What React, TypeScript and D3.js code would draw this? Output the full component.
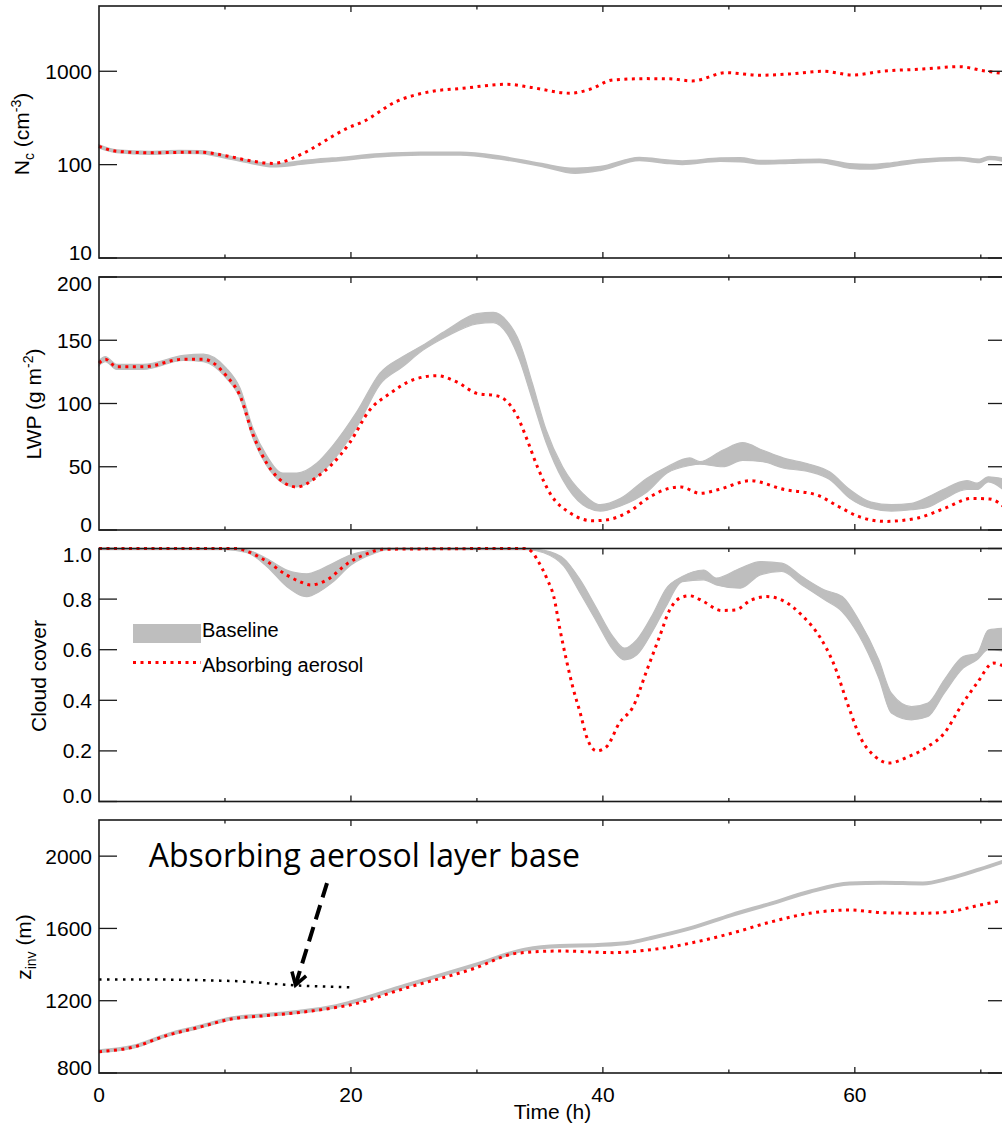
import React from "react";
import * as d3 from "d3";

// ---- time axis ----
const timeDomain = [0, 72];
const timeMajor = [0, 20, 40, 60];
const timeMinor = [10, 30, 50, 70];

// ---- panel 1: droplet number concentration (cm^-3) ----
const ncBaseTime = [0, 1.4, 4, 6.4, 8, 10, 12, 13.8, 16, 17.3, 18.5, 22.3, 25.5, 28.7, 31.8, 35, 37.8, 39.8, 42.9, 45.3, 46.3, 49.3, 50.9, 52.5, 54.8, 57.2, 59.6, 61.2, 62.9, 65.2, 68.3, 69.9, 70.7, 72];
const ncBaseLo = [152, 135, 130, 133, 132, 118, 104, 95, 101, 106, 109, 122, 127, 127, 115, 97, 81, 87, 111, 103, 101, 109, 108, 102, 104, 106, 92, 90, 96, 106, 111, 106, 114, 108];
const ncBaseHi = [162, 143, 138, 141, 140, 126, 110, 101, 109, 114, 117, 130, 135, 135, 123, 103, 91, 95, 119, 111, 109, 117, 118, 110, 112, 114, 102, 100, 104, 114, 119, 114, 122, 116];
const ncAbsTime = [0, 1.4, 4, 8, 10, 12, 13.8, 16, 17.5, 18.5, 19.7, 21, 23.6, 26.3, 28.9, 32.4, 34.2, 37.4, 39, 40.8, 43.5, 45.3, 47.1, 49.8, 52.5, 54.8, 57.5, 59.8, 62.2, 65.4, 68.3, 70.2, 72];
const ncAbs = [157, 139, 134, 136, 125, 110, 103, 128, 165, 200, 245, 290, 474, 605, 658, 725, 675, 582, 643, 808, 834, 830, 788, 966, 906, 935, 1000, 913, 1000, 1057, 1120, 1015, 935];
const ncTicks = [10, 100, 1000];

// ---- panel 2: liquid water path (g m^-2) ----
const lwpBaseTime = [0, 0.5, 1.4, 3.5, 6.7, 8.3, 10.1, 11.2, 12.2, 13.3, 14.6, 15.7, 17.3, 18.5, 20.5, 22.3, 24.1, 25.7, 27.6, 30, 31.3, 32.4, 33.4, 34.4, 35.5, 36.8, 38.4, 39.8, 41.4, 43.5, 45.1, 46.9, 47.7, 49.5, 51.1, 52.7, 54.3, 56.4, 58, 59.6, 61.3, 62.9, 64.5, 65.8, 67, 68.9, 69.7, 70.6, 72];
const lwpBaseLo = [130, 133, 127, 127, 134, 133, 120, 104, 73, 51, 37, 34, 42, 54, 82, 115, 129, 142, 153, 163, 164, 155, 134, 103, 69, 40, 20, 15, 19, 30, 45, 51, 52, 50, 55, 54, 49, 46, 40, 25, 17, 15, 16, 18, 24, 32, 32, 38, 30];
const lwpBaseHi = [134, 137, 131, 131, 138, 139, 128, 112, 81, 59, 45, 45, 53, 66, 94, 124, 137, 146, 158, 171, 172, 165, 148, 116, 79, 50, 29, 20, 25, 41, 50, 57, 54, 63, 69, 63, 57, 52, 46, 32, 22, 20, 21, 26, 32, 39, 37, 42, 40];
const lwpAbsTime = [0, 0.5, 1.4, 3.5, 6.7, 8.3, 10.1, 11.2, 12.2, 13.3, 14.6, 15.7, 17.3, 18.5, 19.9, 21.5, 23.1, 24.9, 26.8, 28.4, 30, 31.6, 32.4, 33.2, 34, 34.8, 35.8, 37.4, 39.2, 40.3, 42.1, 43.7, 45.3, 46.2, 47.7, 49.2, 51.7, 54.4, 57, 58.7, 60.3, 62.4, 65, 67.1, 69.3, 70.7, 72];
const lwpAbs = [132, 135, 129, 129, 135, 135, 122, 106, 76, 53, 38, 34, 42, 52, 69, 95, 108, 118.6, 122, 117, 108, 106, 101.5, 90, 71, 50, 29, 13.4, 7.3, 8, 14.7, 26, 33, 34, 29, 32, 39, 32, 27.6, 18.6, 10.7, 6.8, 9.5, 17, 25, 24.5, 17];
const lwpTicks = [0, 50, 100, 150, 200];

// ---- panel 3: cloud cover ----
const cloudBaseTime = [0, 10, 11.7, 13.3, 14.9, 16.5, 17.5, 18.5, 20, 21.8, 23, 34, 35.3, 36.9, 38.2, 39.5, 40.8, 41.7, 42.7, 44, 45, 46.3, 48, 49, 50.9, 52.5, 54.2, 55.8, 57.6, 59, 60.3, 61.9, 62.9, 64.5, 65.8, 67.1, 68.6, 69.7, 70.6, 72];
const cloudBaseLo = [0.995, 0.995, 0.985, 0.93, 0.85, 0.81, 0.83, 0.865, 0.935, 0.98, 0.995, 0.995, 0.983, 0.93, 0.823, 0.711, 0.6, 0.56, 0.58, 0.678, 0.77, 0.869, 0.876, 0.856, 0.843, 0.896, 0.909, 0.856, 0.797, 0.75, 0.659, 0.488, 0.35, 0.323, 0.336, 0.428, 0.527, 0.56, 0.6, 0.593];
const cloudBaseHi = [1, 1, 0.995, 0.96, 0.915, 0.9, 0.915, 0.94, 0.975, 0.995, 1, 1, 0.993, 0.96, 0.876, 0.764, 0.652, 0.606, 0.64, 0.744, 0.84, 0.889, 0.915, 0.883, 0.922, 0.948, 0.942, 0.889, 0.836, 0.81, 0.718, 0.56, 0.428, 0.375, 0.389, 0.481, 0.573, 0.586, 0.678, 0.685];
const cloudAbsTime = [0, 11, 11.7, 13.3, 14.9, 15.9, 16.8, 18.1, 19.7, 21.3, 22.5, 33.8, 34.4, 34.8, 35.6, 36.1, 36.6, 37.1, 37.6, 38.2, 38.7, 39.5, 40.3, 41.3, 42.4, 43.5, 44.5, 45.3, 46.1, 46.9, 48, 49.4, 50.5, 51.8, 53, 54.3, 55.9, 57.2, 58.3, 59.5, 60.4, 61.6, 62.7, 64.3, 65.8, 67.1, 68.4, 69.7, 71, 72];
const cloudAbs = [1, 1, 0.99, 0.95, 0.895, 0.87, 0.856, 0.876, 0.94, 0.98, 0.997, 1, 0.985, 0.955, 0.876, 0.81, 0.678, 0.56, 0.454, 0.35, 0.257, 0.2, 0.217, 0.31, 0.375, 0.52, 0.652, 0.757, 0.804, 0.813, 0.79, 0.755, 0.757, 0.797, 0.81, 0.794, 0.731, 0.652, 0.547, 0.375, 0.257, 0.178, 0.152, 0.178, 0.217, 0.27, 0.375, 0.468, 0.547, 0.53];
const cloudTicks = [0, 0.2, 0.4, 0.6, 0.8, 1.0];

// ---- panel 4: inversion height (m) ----
const zinvBaseTime = [0, 2.7, 5.4, 8, 10.6, 13.3, 15.9, 18.6, 19.9, 24.3, 29.8, 33.9, 36.6, 39.6, 42.2, 43.7, 46.9, 50.2, 53.4, 56.4, 59.6, 62.2, 65.4, 67.5, 69.9, 72];
const zinvBase = [920, 945, 1010, 1056, 1103, 1121, 1139, 1167, 1189, 1283, 1397, 1484, 1503, 1508, 1522, 1545, 1600, 1674, 1739, 1803, 1849, 1853, 1849, 1877, 1927, 1975];
const zinvAbsTime = [0, 2.7, 5.4, 8, 10.6, 13.3, 15.9, 18.6, 19.9, 24.3, 29.8, 33.1, 36.6, 40.9, 43.5, 45.5, 46.9, 50.2, 53.4, 56.4, 59.6, 62.2, 65.4, 67.5, 69.9, 72];
const zinvAbs = [918, 943, 1008, 1054, 1100, 1118, 1135, 1160, 1176, 1269, 1379, 1462, 1475, 1466, 1480, 1499, 1518, 1573, 1637, 1684, 1702, 1687, 1684, 1692, 1729, 1757];
const layerBaseTime = [0, 2.5, 10.6, 15.6, 20];
const layerBase = [1318, 1318, 1309, 1285, 1274];
const zinvTicks = [800, 1200, 1600, 2000];

const legendLabels = ["Baseline", "Absorbing aerosol"];
const annotationText = "Absorbing aerosol layer base";
// annotation anchor and arrow, in (time, z) units
const annotationAnchor = [3.95, 1940];
const arrowTail = [18.1, 1851];
const arrowTip = [15.6, 1287];

const FONT = "'Liberation Sans', Arial, Helvetica, sans-serif";
const GRAY = "#bebebe";
const RED = "#ff0000";
const AXIS = "#1a1a1a";

const XL = 99;
const XR = 1006;
const x = d3.scaleLinear().domain(timeDomain).range([XL, XR]);

type Scale = (v: number) => number;

function bandPath(t: number[], lo: number[], hi: number[], y: Scale) {
  return (
    d3
      .area<number>()
      .x((d) => x(d))
      .y0((_, i) => y(lo[i]))
      .y1((_, i) => y(hi[i]))
      .curve(d3.curveMonotoneX)(t) || ""
  );
}

function linePath(t: number[], v: number[], y: Scale) {
  return (
    d3
      .line<number>()
      .x((d) => x(d))
      .y((_, i) => y(v[i]))
      .curve(d3.curveMonotoneX)(t) || ""
  );
}

interface PanelProps {
  top: number;
  bottom: number;
  y: Scale;
  ticks: number[];
  fmt: (v: number) => string;
  showTimeLabels?: boolean;
  children?: React.ReactNode;
}

function Panel({ top, bottom, y, ticks, fmt, showTimeLabels, children }: PanelProps) {
  const xt = [...timeMajor.filter((t) => t > 0).map((t) => ({ t, len: 6 })), ...timeMinor.map((t) => ({ t, len: 3.5 }))];
  return (
    <g>
      {children}
      <rect x={XL} y={top} width={XR - XL} height={bottom - top} fill="none" stroke={AXIS} strokeWidth={1.6} />
      {xt.map(({ t, len }) => (
        <g key={"xt" + t}>
          <line x1={x(t)} x2={x(t)} y1={bottom} y2={bottom - len} stroke={AXIS} strokeWidth={1.3} />
          <line x1={x(t)} x2={x(t)} y1={top} y2={top + len} stroke={AXIS} strokeWidth={1.3} />
        </g>
      ))}
      {ticks.map((v) => {
        const yy = y(v);
        const ly = Math.min(Math.max(yy, top + 6), bottom - 6);
        return (
          <g key={"yt" + v}>
            <line x1={XL} x2={XL + 18} y1={yy} y2={yy} stroke={AXIS} strokeWidth={1.3} />
            <line x1={XR - 18} x2={XR} y1={yy} y2={yy} stroke={AXIS} strokeWidth={1.3} />
            <text x={92} y={ly} dy="0.36em" textAnchor="end" fontSize={21} fontFamily={FONT} fill="#000">
              {fmt(v)}
            </text>
          </g>
        );
      })}
      {showTimeLabels &&
        timeMajor.map((t) => (
          <text key={"xl" + t} x={x(t)} y={1101.5} textAnchor="middle" fontSize={21} fontFamily={FONT} fill="#000">
            {String(t)}
          </text>
        ))}
    </g>
  );
}

function Arrow() {
  const x1 = x(arrowTail[0]);
  const y1 = yZinv(arrowTail[1]);
  const x2 = x(arrowTip[0]);
  const y2 = yZinv(arrowTip[1]);
  const ang = Math.atan2(y1 - y2, x1 - x2);
  const L = 14;
  const spread = (32 * Math.PI) / 180;
  const a1 = [x2 + L * Math.cos(ang + spread), y2 + L * Math.sin(ang + spread)];
  const a2 = [x2 + L * Math.cos(ang - spread), y2 + L * Math.sin(ang - spread)];
  const sx = x2 + 3 * Math.cos(ang);
  const sy = y2 + 3 * Math.sin(ang);
  return (
    <g>
      <line x1={x1} y1={y1} x2={sx} y2={sy} stroke="#000" strokeWidth={4} strokeDasharray="15 8" />
      <path d={`M${a1[0]},${a1[1]} L${x2},${y2} L${a2[0]},${a2[1]}`} fill="none" stroke="#000" strokeWidth={3.5} strokeLinejoin="miter" />
    </g>
  );
}

const yNc = d3.scaleLog().domain([10, 5000]).range([258, 6]);
const yLwp = d3.scaleLinear().domain([0, 200]).range([530, 277]);
const yCloud = d3.scaleLinear().domain([0, 1]).range([801.5, 548.5]);
const yZinv = d3.scaleLinear().domain([800, 2200]).range([1073, 820]);

const redDash = "3 4.5";

export default function App() {
  return (
    <svg
      width={1002}
      height={1125}
      viewBox="0 0 1002 1125"
      style={{ position: "absolute", left: 0, top: 0, background: "#fff", display: "block" }}
    >
      <rect x={0} y={0} width={1002} height={1125} fill="#fff" />

      {/* Nc */}
      <Panel top={6} bottom={258} y={yNc} ticks={ncTicks} fmt={(v) => String(v)}>
        <path d={bandPath(ncBaseTime, ncBaseLo, ncBaseHi, yNc)} fill={GRAY} stroke={GRAY} strokeWidth={1.8} />
        <path d={linePath(ncAbsTime, ncAbs, yNc)} fill="none" stroke={RED} strokeWidth={3} strokeDasharray={redDash} />
      </Panel>
      <text transform="translate(29,134) rotate(-90)" textAnchor="middle" fontSize={21} fontFamily={FONT}>
        N<tspan fontSize={14} dy={5}>c</tspan>
        <tspan dy={-5}> (cm</tspan>
        <tspan fontSize={14} dy={-8}>-3</tspan>
        <tspan dy={8}>)</tspan>
      </text>

      {/* LWP */}
      <Panel top={277} bottom={530} y={yLwp} ticks={lwpTicks} fmt={(v) => String(v)}>
        <path d={bandPath(lwpBaseTime, lwpBaseLo, lwpBaseHi, yLwp)} fill={GRAY} stroke={GRAY} strokeWidth={1.2} />
        <path d={linePath(lwpAbsTime, lwpAbs, yLwp)} fill="none" stroke={RED} strokeWidth={3} strokeDasharray={redDash} />
      </Panel>
      <text transform="translate(41,404) rotate(-90)" textAnchor="middle" fontSize={21} fontFamily={FONT}>
        LWP (g m<tspan fontSize={14} dy={-8}>-2</tspan>
        <tspan dy={8}>)</tspan>
      </text>

      {/* Cloud cover */}
      <Panel top={548.5} bottom={801.5} y={yCloud} ticks={cloudTicks} fmt={(v) => v.toFixed(1)}>
        <path d={bandPath(cloudBaseTime, cloudBaseLo, cloudBaseHi, yCloud)} fill={GRAY} stroke={GRAY} strokeWidth={1.2} />
        <path d={linePath(cloudAbsTime, cloudAbs, yCloud)} fill="none" stroke={RED} strokeWidth={3} strokeDasharray={redDash} />
      </Panel>
      <text transform="translate(46,676) rotate(-90)" textAnchor="middle" fontSize={21} fontFamily={FONT}>
        Cloud cover
      </text>
      {/* legend */}
      <rect x={133} y={624} width={68} height={19} fill={GRAY} />
      <text x={202} y={637} fontSize={20} fontFamily={FONT}>
        {legendLabels[0]}
      </text>
      <line x1={133} x2={201} y1={662.5} y2={662.5} stroke={RED} strokeWidth={3} strokeDasharray={redDash} />
      <text x={202} y={672} fontSize={20} fontFamily={FONT}>
        {legendLabels[1]}
      </text>

      {/* z_inv */}
      <Panel top={820} bottom={1073} y={yZinv} ticks={zinvTicks} fmt={(v) => String(v)} showTimeLabels>
        <path d={linePath(zinvBaseTime, zinvBase, yZinv)} fill="none" stroke={GRAY} strokeWidth={4} />
        <path d={linePath(zinvAbsTime, zinvAbs, yZinv)} fill="none" stroke={RED} strokeWidth={3} strokeDasharray={redDash} />
        <path d={linePath(layerBaseTime, layerBase, yZinv)} fill="none" stroke="#000" strokeWidth={2.5} strokeDasharray="2.5 5.5" />
        <text
          x={x(annotationAnchor[0])}
          y={yZinv(annotationAnchor[1])}
          fontSize={32}
          fontFamily="'Open Sans', 'Noto Sans', sans-serif"
          fill="#000"
        >
          {annotationText}
        </text>
        <Arrow />
      </Panel>
      <text transform="translate(31,947) rotate(-90)" textAnchor="middle" fontSize={21} fontFamily={FONT}>
        z<tspan fontSize={14} dy={5}>inv</tspan>
        <tspan dy={-5}> (m)</tspan>
      </text>

      <text x={(XL + XR) / 2} y={1119} textAnchor="middle" fontSize={21} fontFamily={FONT}>
        Time (h)
      </text>
    </svg>
  );
}
